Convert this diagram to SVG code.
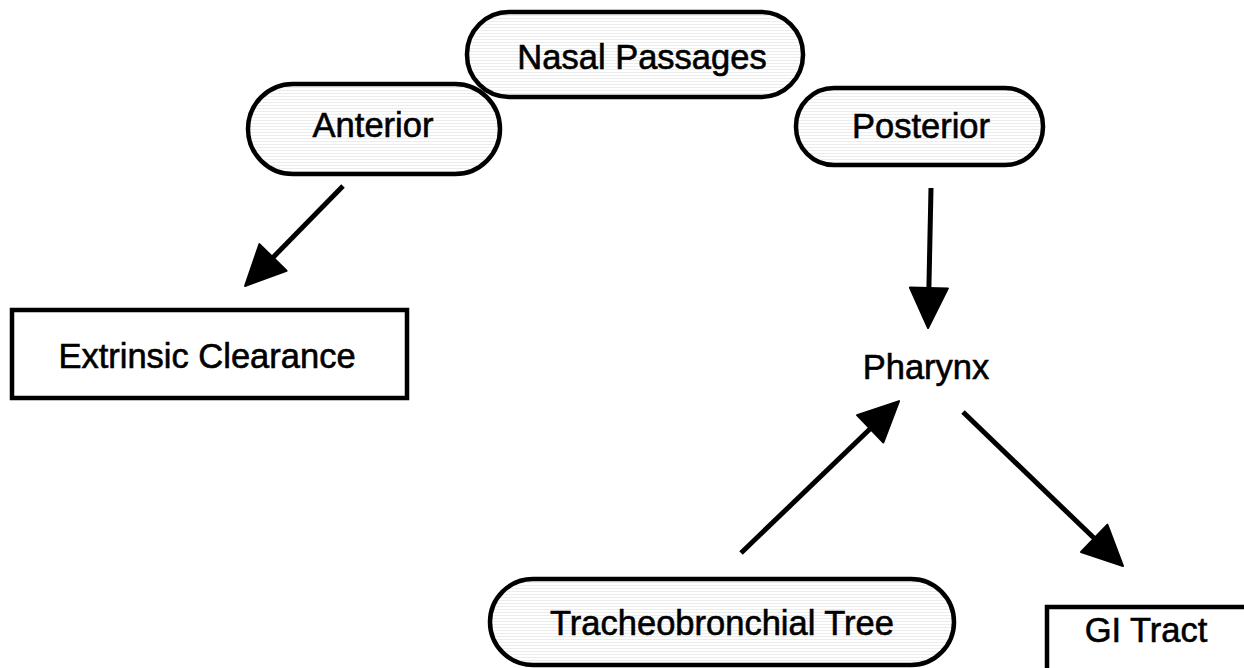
<svg xmlns="http://www.w3.org/2000/svg" width="1244" height="668" viewBox="0 0 1244 668">
<defs>
<pattern id="stripes" width="8" height="3" patternUnits="userSpaceOnUse">
<rect width="8" height="3" fill="#ffffff"/>
<rect width="8" height="1" fill="#ececec"/>
</pattern>
<marker id="head" markerUnits="userSpaceOnUse" markerWidth="50" markerHeight="50" viewBox="-5 -25 50 50" refX="0" refY="0" orient="auto">
<path d="M0,-19 L40,0 L0,19 Z" fill="#000" stroke="#000" stroke-width="2" stroke-linejoin="round"/>
</marker>
</defs>
<style>
.pill{fill:url(#stripes);stroke:#000;stroke-width:4.5}
.box{fill:#fff;stroke:#000;stroke-width:4.5}
.lbl{font-family:"Liberation Sans",Arial,sans-serif;font-size:34.5px;fill:#000;stroke:#000;stroke-width:0.6;text-anchor:middle}
.conn{stroke:#000;stroke-width:5;fill:none;marker-end:url(#head)}
</style>
<rect width="1244" height="668" fill="#fff"/>
<g id="nasal">
<rect class="pill" x="467" y="12" width="336" height="85" rx="42" ry="42"/>
<text class="lbl" x="642" y="69">Nasal Passages</text>
</g>
<g id="anterior">
<rect class="pill" x="248" y="84" width="252" height="90" rx="45" ry="45"/>
<text class="lbl" x="373" y="137">Anterior</text>
</g>
<g id="posterior">
<rect class="pill" x="796" y="88" width="247" height="77" rx="38" ry="38"/>
<text class="lbl" x="921" y="138">Posterior</text>
</g>
<g id="extrinsic">
<rect class="box" x="12" y="310" width="395" height="88"/>
<text class="lbl" x="207" y="368">Extrinsic Clearance</text>
</g>
<g id="pharynx">
<text class="lbl" x="926" y="379">Pharynx</text>
</g>
<g id="tracheo">
<rect class="pill" x="490" y="579" width="464" height="86" rx="43" ry="43"/>
<text class="lbl" x="722" y="635">Tracheobronchial Tree</text>
</g>
<g id="gi">
<rect class="box" x="1047" y="607" width="220" height="80"/>
<text class="lbl" x="1146" y="642">GI Tract</text>
</g>
<g id="connectors">
<line class="conn" x1="343" y1="186" x2="273" y2="257.4"/>
<line class="conn" x1="931" y1="188" x2="928.9" y2="288"/>
<line class="conn" x1="741" y1="553" x2="870.2" y2="428.8"/>
<line class="conn" x1="963" y1="412" x2="1094.2" y2="538.3"/>
</g>
</svg>
